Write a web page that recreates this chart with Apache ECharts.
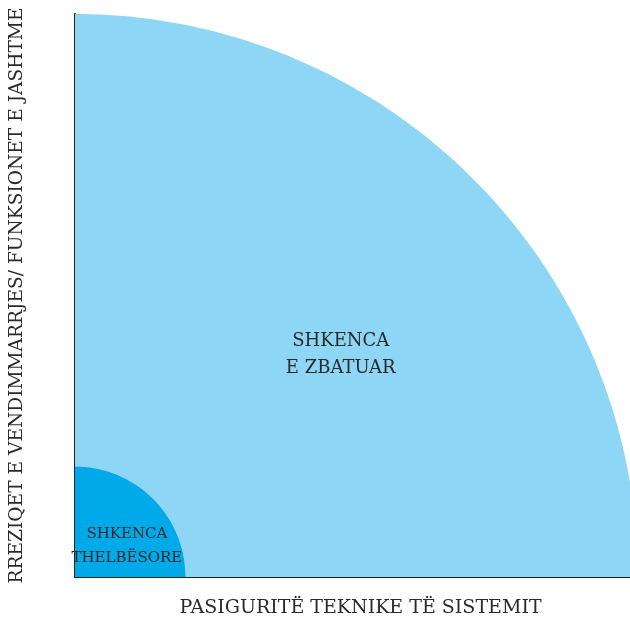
<!DOCTYPE html>
<html lang="sq">
<head>
    <meta charset="UTF-8">
    <title>Shkenca</title>
    <script src="https://cdn.jsdelivr.net/npm/echarts@6/dist/echarts.min.js"></script>
    <style>
        body { margin: 0; background: #fff; }
        #chart { width: 630px; height: 621px; }
    </style>
</head>
<body>
<div id="chart"></div>
<script>
    // zonat (rrezja ne njesi te boshteve), renditur nga jashte brenda
    var zoneNames = ['SHKENCA\nE ZBATUAR', 'SHKENCA\nTHELBËSORE'];
    var zoneRadius = [5, 0.98];
    var zoneColors = ['#8dd6f5', '#00a9e8'];
    // qendra e etiketes si pjese e rrezes
    var labelAt = [[0.472, 0.395], [0.47, 0.28]];
    var labelSize = [18, 15];
    var labelLine = [27, 24];

    var xName = 'PASIGURITË TEKNIKE TË SISTEMIT';
    var yName = 'RREZIQET E VENDIMMARRJES/ FUNKSIONET E JASHTME';

    var chart = echarts.init(document.getElementById('chart'));

    function renderZone(params, api) {
        var i = params.dataIndex;
        var r = api.value(0);
        var pts = [api.coord([0, 0])];
        for (var k = 0; k <= 120; k++) {
            var a = k / 120 * Math.PI / 2;
            pts.push(api.coord([r * Math.cos(a), r * Math.sin(a)]));
        }
        var lp = api.coord([r * labelAt[i][0], r * labelAt[i][1]]);
        return {
            type: 'group',
            children: [{
                type: 'polygon',
                shape: { points: pts },
                style: { fill: zoneColors[i] }
            }, {
                type: 'text',
                x: lp[0],
                y: lp[1],
                style: {
                    text: zoneNames[i],
                    align: 'center',
                    verticalAlign: 'middle',
                    fontFamily: 'DejaVu Serif',
                    fontSize: labelSize[i],
                    lineHeight: labelLine[i],
                    fill: '#2a2a2a'
                }
            }]
        };
    }

    var option = {
        animation: false,
        // rrethi del pak jashte kornizes djathtas
        grid: { left: 75, right: -8, top: 14, bottom: 44, outerBoundsMode: 'none' },
        xAxis: {
            type: 'value',
            min: 0,
            max: 5,
            name: xName,
            nameLocation: 'middle',
            nameGap: 22,
            nameTextStyle: { fontFamily: 'DejaVu Serif', fontSize: 19, color: '#2a2a2a', padding: [0, 0, 0, 8] },
            axisLine: { show: true, lineStyle: { color: '#222', width: 2 } },
            axisTick: { show: false },
            axisLabel: { show: false },
            splitLine: { show: false }
        },
        yAxis: {
            type: 'value',
            min: 0,
            max: 5,
            name: yName,
            nameLocation: 'middle',
            nameGap: 48,
            nameTextStyle: { fontFamily: 'DejaVu Serif', fontSize: 18.6, color: '#2a2a2a' },
            axisLine: { show: true, lineStyle: { color: '#222', width: 2 } },
            axisTick: { show: false },
            axisLabel: { show: false },
            splitLine: { show: false }
        },
        series: [{
            type: 'custom',
            renderItem: renderZone,
            clip: false,
            z: 1,
            data: zoneRadius.map(function (r) { return [r]; })
        }]
    };

    chart.setOption(option);
</script>
</body>
</html>
